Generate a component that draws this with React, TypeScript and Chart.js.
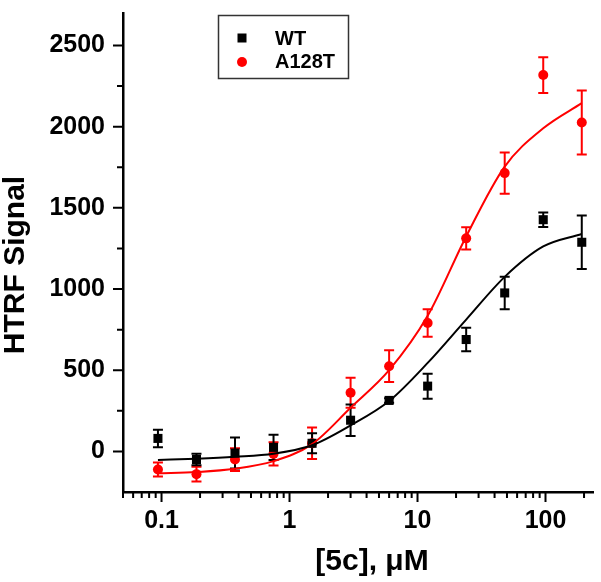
import React, { useEffect, useRef } from "react";
import { Chart, registerables } from "chart.js";

Chart.register(...registerables);

// ---- data ----
const concentrations = [0.09375, 0.1875, 0.375, 0.75, 1.5, 3, 6, 12, 24, 48, 96, 192];
const wtMean = [80, -50, -10, 25, 50, 192, 314, 402, 689, 976, 1427, 1288];
const wtErr = [54, 35, 95, 78, 62, 97, 14, 77, 72, 100, 45, 165];
const redMean = [-111, -140, -50, -15, 50, 361, 525, 791, 1312, 1714, 2318, 2026];
const redErr = [43, 45, 70, 72, 97, 92, 98, 85, 68, 127, 110, 197];
const wtFit = [-53, -45, -33, -14, 38, 160, 310, 545, 812, 1075, 1262, 1339];
const redFit = [-135, -127, -107, -60, 45, 269, 500, 835, 1324, 1754, 1990, 2145];

const xMajorTicks = [0.1, 1, 10, 100];
const yMajorTicks = [0, 500, 1000, 1500, 2000, 2500];
const yMinorTicks = [-250, 250, 750, 1250, 1750, 2250];
const seriesNames = ["WT", "A128T"];
const xTitle = "[5c], \u03BCM";
const yTitle = "HTRF Signal";

const X_MIN = 0.05;
const X_MAX = 235;
const Y_MIN = -250;
const Y_MAX = 2700;

const FONT = "'Liberation Sans', Arial, sans-serif";

const pts = (ys: number[]) => concentrations.map((x, i) => ({ x, y: ys[i] }));

const decorPlugin = {
  id: "decor",
  beforeDatasetsDraw(chart: any) {
    const ctx = chart.ctx;
    const xs = chart.scales.x;
    const ys = chart.scales.y;
    const drawErr = (means: number[], errs: number[], color: string) => {
      ctx.save();
      ctx.strokeStyle = color;
      ctx.lineWidth = 2;
      concentrations.forEach((c, i) => {
        const px = xs.getPixelForValue(c);
        const top = ys.getPixelForValue(means[i] + errs[i]);
        const bot = ys.getPixelForValue(means[i] - errs[i]);
        ctx.beginPath();
        ctx.moveTo(px, top);
        ctx.lineTo(px, bot);
        ctx.moveTo(px - 5, top);
        ctx.lineTo(px + 5, top);
        ctx.moveTo(px - 5, bot);
        ctx.lineTo(px + 5, bot);
        ctx.stroke();
      });
      ctx.restore();
    };
    drawErr(redMean, redErr, "#ff0000");
    drawErr(wtMean, wtErr, "#000000");
  },
  afterDraw(chart: any) {
    const ctx = chart.ctx;
    const xs = chart.scales.x;
    const ys = chart.scales.y;
    const area = chart.chartArea;
    ctx.save();
    ctx.strokeStyle = "#000";
    ctx.lineWidth = 2;
    // y ticks
    ctx.beginPath();
    yMajorTicks.forEach((v) => {
      const py = ys.getPixelForValue(v);
      ctx.moveTo(area.left - 10, py);
      ctx.lineTo(area.left, py);
    });
    yMinorTicks.forEach((v) => {
      const py = ys.getPixelForValue(v);
      if (py >= area.bottom - 1) return;
      ctx.moveTo(area.left - 6, py);
      ctx.lineTo(area.left, py);
    });
    // x ticks
    xMajorTicks.forEach((v) => {
      const px = xs.getPixelForValue(v);
      ctx.moveTo(px, area.bottom);
      ctx.lineTo(px, area.bottom + 10);
    });
    for (let e = -2; e <= 2; e++) {
      for (let k = 2; k <= 9; k++) {
        const v = k * Math.pow(10, e);
        if (v < X_MIN || v > X_MAX) continue;
        const px = xs.getPixelForValue(v);
        ctx.moveTo(px, area.bottom);
        ctx.lineTo(px, area.bottom + 6);
      }
    }
    ctx.stroke();

    // axis titles
    ctx.fillStyle = "#000";
    ctx.font = `bold 30px ${FONT}`;
    ctx.textAlign = "center";
    ctx.textBaseline = "alphabetic";
    ctx.fillText(xTitle, 372, 570);
    ctx.save();
    ctx.translate(24, 265);
    ctx.rotate(-Math.PI / 2);
    ctx.fillText(yTitle, 0, 0);
    ctx.restore();

    // legend
    ctx.lineWidth = 1.5;
    ctx.strokeStyle = "#333";
    ctx.strokeRect(218.5, 15.5, 130, 63);
    ctx.fillStyle = "#000";
    ctx.fillRect(237.5, 33.5, 9, 9);
    ctx.fillStyle = "#ff0000";
    ctx.beginPath();
    ctx.arc(242, 62, 5, 0, Math.PI * 2);
    ctx.fill();
    ctx.fillStyle = "#000";
    ctx.font = `bold 20px ${FONT}`;
    ctx.textAlign = "left";
    ctx.textBaseline = "middle";
    ctx.fillText(seriesNames[0], 275, 39);
    ctx.fillText(seriesNames[1], 275, 62);
    ctx.restore();
  },
};

export default function App() {
  const ref = useRef<HTMLCanvasElement | null>(null);
  useEffect(() => {
    if (!ref.current) return;
    const chart = new Chart(ref.current, {
      type: "scatter",
      data: {
        datasets: [
          {
            label: "WT fit",
            data: pts(wtFit),
            showLine: true,
            borderColor: "#000",
            borderWidth: 2,
            pointRadius: 0,
            cubicInterpolationMode: "monotone",
          } as any,
          {
            label: "A128T fit",
            data: pts(redFit),
            showLine: true,
            borderColor: "#ff0000",
            borderWidth: 2,
            pointRadius: 0,
            cubicInterpolationMode: "monotone",
          } as any,
          {
            label: seriesNames[0],
            data: pts(wtMean),
            pointStyle: "rect",
            pointRadius: 6.4,
            backgroundColor: "#000",
            borderColor: "#000",
            borderWidth: 0,
          },
          {
            label: seriesNames[1],
            data: pts(redMean),
            pointStyle: "circle",
            pointRadius: 5,
            backgroundColor: "#ff0000",
            borderColor: "#ff0000",
            borderWidth: 0,
          },
        ],
      },
      options: {
        animation: false,
        responsive: true,
        maintainAspectRatio: false,
        layout: { padding: { top: 13, right: 8, left: 0, bottom: 0 } },
        plugins: {
          legend: { display: false },
          tooltip: { enabled: false },
        },
        scales: {
          x: {
            type: "logarithmic",
            min: X_MIN,
            max: X_MAX,
            afterBuildTicks: (s: any) => {
              s.ticks = xMajorTicks.map((v) => ({ value: v }));
            },
            afterFit: (s: any) => {
              s.height = 90;
              s.paddingLeft = 0;
              s.paddingRight = 0;
            },
            grid: { display: false, drawTicks: false, tickLength: 0 },
            border: { display: true, color: "#000", width: 2.5 },
            ticks: {
              autoSkip: false,
              maxRotation: 0,
              padding: 14,
              color: "#000",
              font: { family: FONT, size: 25, weight: "bold" },
              callback: (v: any) => String(Number(v)),
            },
          },
          y: {
            type: "linear",
            min: Y_MIN,
            max: Y_MAX,
            afterBuildTicks: (s: any) => {
              s.ticks = yMajorTicks.map((v) => ({ value: v }));
            },
            afterFit: (s: any) => {
              s.width = 123;
              s.paddingTop = 0;
              s.paddingBottom = 0;
            },
            grid: { display: false, drawTicks: false, tickLength: 0 },
            border: { display: true, color: "#000", width: 2.5 },
            ticks: {
              autoSkip: false,
              padding: 18,
              color: "#000",
              font: { family: FONT, size: 25, weight: "bold" },
              callback: (v: any) => String(v),
            },
          },
        },
      },
      plugins: [decorPlugin],
    });
    return () => chart.destroy();
  }, []);
  return (
    <div style={{ position: "absolute", left: 0, top: 0, width: 601, height: 582, background: "#fff" }}>
      <canvas ref={ref} />
    </div>
  );
}
